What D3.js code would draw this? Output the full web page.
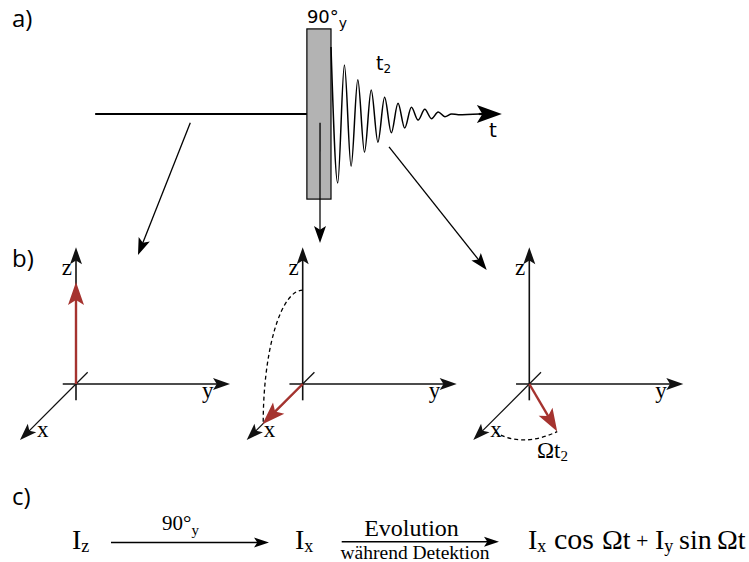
<!DOCTYPE html>
<html>
<head>
<meta charset="utf-8">
<script src="https://cdn.jsdelivr.net/npm/d3@7"></script>
<style>
  body { margin: 0; background: #fff; }
  svg { display: block; }
</style>
</head>
<body>
<script>
// a) pulse sequence: time in FID periods (0 = end of the 90° pulse),
//    signal in units of the first FID maximum
const seqStart = -17.6;
const pulseStart = -1.8;
const pulseEnd = 0;
const axisEnd = 12.75;
const pulseHeight = 1.27;
const fidTimes = [0, 0.5, 1, 1.5, 2, 2.5, 3, 3.5, 4, 4.5, 5, 5.5, 6, 6.5, 7, 7.5, 8, 8.5, 9, 9.5, 11.1];
const fidValues = [1.0, -1.03, 0.73, -0.78, 0.51, -0.57, 0.36, -0.42, 0.25, -0.28, 0.16, -0.21,
                   0.10, -0.09, 0.07, -0.07, 0.03, -0.04, 0, -0.01, 0];

// where the three arrows leave the sequence (time, signal)
const linkTimes = [-10.5, -0.82, 4.33];
const linkValues = [-0.13, -0.13, -0.49];

// b) magnetisation vectors in the three frames
const magX = [0, 1.0, 1.18];
const magY = [0, 0, 0.74];
const magZ = [1.0, 0, 0];
const xAxisExtent = [-0.29, 1.39];
const yAxisExtent = [-0.13, 1.51];
const zAxisExtent = [-0.16, 1.34];

const RED = '#a5332f';
const SERIF = '"Liberation Serif", "Times New Roman", serif';
const SANS = '"DejaVu Sans", "Liberation Sans", sans-serif';

const width = 749, height = 562;

const svg = d3.select('body')
    .append('svg')
    .attr('width', width)
    .attr('height', height);

function arrowHead(g, x1, y1, x2, y2, len, half, color) {
    const a = Math.atan2(y2 - y1, x2 - x1);
    const c = Math.cos(a), s = Math.sin(a);
    const pts = [[0, 0], [-len, -half], [-len * 0.78, 0], [-len, half]]
        .map(([px, py]) => [x2 + px * c - py * s, y2 + px * s + py * c]);
    g.append('path')
        .attr('d', d3.line()(pts) + 'Z')
        .attr('fill', color);
}

function arrow(g, x1, y1, x2, y2, opt) {
    const o = Object.assign({len: 17, half: 6, color: '#000', width: 1.4}, opt);
    const a = Math.atan2(y2 - y1, x2 - x1);
    const back = o.len * 0.7;
    g.append('line')
        .attr('x1', x1).attr('y1', y1)
        .attr('x2', x2 - back * Math.cos(a)).attr('y2', y2 - back * Math.sin(a))
        .attr('stroke', o.color)
        .attr('stroke-width', o.width);
    arrowHead(g, x1, y1, x2, y2, o.len, o.half, o.color);
}

function subText(g, x, y, main, sub, size, subSize, family, shift) {
    const t = g.append('text')
        .attr('x', x).attr('y', y)
        .attr('font-family', family)
        .attr('font-size', size)
        .attr('fill', '#000');
    t.append('tspan').text(main);
    t.append('tspan').attr('dy', shift).attr('font-size', subSize).text(sub);
    return t;
}

// panel letters
[['a)', 27], ['b)', 267], ['c)', 505]].forEach(([lab, y]) => {
    svg.append('text')
        .attr('x', 12).attr('y', y)
        .attr('font-family', '"Open Sans", sans-serif')
        .attr('font-size', 24)
        .text(lab);
});

// ---------- a) ----------
const xA = d3.scaleLinear().domain([0, 10]).range([331, 465]);
const yA = d3.scaleLinear().domain([-1, 1]).range([181, 47]);
const gA = svg.append('g');

gA.append('line')
    .attr('x1', xA(seqStart)).attr('x2', xA(pulseStart))
    .attr('y1', yA(0)).attr('y2', yA(0))
    .attr('stroke', '#000')
    .attr('stroke-width', 2.2);

gA.append('rect')
    .attr('x', xA(pulseStart))
    .attr('y', yA(pulseHeight))
    .attr('width', xA(pulseEnd) - xA(pulseStart))
    .attr('height', yA(-pulseHeight) - yA(pulseHeight))
    .attr('fill', '#b3b3b3')
    .attr('stroke', '#000')
    .attr('stroke-width', 1.2);

const fid = fidTimes.map((t, i) => [t, fidValues[i]]);
gA.append('path')
    .datum(fid)
    .attr('d', d3.line().x(d => xA(d[0])).y(d => yA(d[1])).curve(d3.curveMonotoneX))
    .attr('fill', 'none')
    .attr('stroke', '#000')
    .attr('stroke-width', 1.5);

gA.append('line')
    .attr('x1', xA(fidTimes[fidTimes.length - 1]) - 1).attr('x2', xA(axisEnd) - 18)
    .attr('y1', yA(0)).attr('y2', yA(0))
    .attr('stroke', '#000')
    .attr('stroke-width', 2.2);
arrowHead(gA, xA(0), yA(0), xA(axisEnd), yA(0), 25, 9, '#000');

subText(gA, xA(pulseStart), 23, '90°', 'y', 18, 14, SANS, 5);
subText(gA, 376, 70, 't', '2', 19, 12, SANS, 3);
gA.append('text')
    .attr('x', 489).attr('y', 137)
    .attr('font-family', SANS)
    .attr('font-size', 20)
    .text('t');

// ---------- b) ----------
const origins = [[76, 384], [302.7, 384], [529.3, 384]];
const sx = d3.scaleLinear().domain([0, 1]).range([0, 57]);   // along the diagonal x axis
const sy = d3.scaleLinear().domain([0, 1]).range([0, 102]);
const sz = d3.scaleLinear().domain([0, 1]).range([0, -102]);
function proj(o, x, y, z) {
    const d = sx(x) * Math.SQRT1_2;
    return [o[0] + sy(y) - d, o[1] + sz(z) + d];
}

// arrows from the sequence into the frames (tip offsets from the frame origin)
const linkTips = [[62, -129], [17.3, -141], [-42.6, -114]];
linkTimes.forEach((t, i) => {
    const o = origins[i];
    arrow(svg, xA(t), yA(linkValues[i]), o[0] + linkTips[i][0], o[1] + linkTips[i][1],
        {len: 17, half: 6, width: 1.3});
});

const gB = svg.append('g');
origins.forEach((o, i) => {
    const g = gB.append('g');
    const axStyle = {len: 17, half: 6, width: 1.6, color: '#111'};
    let p0 = proj(o, 0, 0, zAxisExtent[0]), p1 = proj(o, 0, 0, zAxisExtent[1]);
    arrow(g, p0[0], p0[1], p1[0], p1[1], axStyle);
    p0 = proj(o, 0, yAxisExtent[0], 0); p1 = proj(o, 0, yAxisExtent[1], 0);
    arrow(g, p0[0], p0[1], p1[0], p1[1], axStyle);
    p0 = proj(o, xAxisExtent[0], 0, 0); p1 = proj(o, xAxisExtent[1], 0, 0);
    arrow(g, p0[0], p0[1], p1[0], p1[1], Object.assign({}, axStyle, {width: 1.3}));

    g.append('text').attr('x', o[0] - 4).attr('y', 275)
        .attr('text-anchor', 'end')
        .attr('font-family', SERIF).attr('font-size', 23).text('z');
    g.append('text').attr('x', o[0] + 126).attr('y', 398)
        .attr('font-family', SERIF).attr('font-size', 23).text('y');
    g.append('text').attr('x', o[0] - 39).attr('y', 437)
        .attr('font-family', SERIF).attr('font-size', 23).text('x');

    const tip = proj(o, magX[i], magY[i], magZ[i]);
    arrow(g, o[0], o[1], tip[0], tip[1], {len: 23, half: 8, width: 2.4, color: RED});
});

// rotation paths
{
    const o = origins[1];
    const s = proj(o, 0, 0, 0.92), e = proj(o, 0.98, 0, 0);
    gB.append('path')
        .attr('d', `M${s[0]},${s[1]} A${s[0] - e[0]},${e[1] - s[1]} 0 0 0 ${e[0]},${e[1]}`)
        .attr('fill', 'none')
        .attr('stroke', '#000')
        .attr('stroke-width', 1.3)
        .attr('stroke-dasharray', '4,3');
}
{
    const o = origins[2];
    const s = proj(o, 1.19, 0.13, 0), c = proj(o, 1.59, 0.556, 0), e = proj(o, magX[2], magY[2], 0);
    gB.append('path')
        .attr('d', `M${s[0]},${s[1]} Q${c[0]},${c[1]} ${e[0]},${e[1]}`)
        .attr('fill', 'none')
        .attr('stroke', '#000')
        .attr('stroke-width', 1.3)
        .attr('stroke-dasharray', '4,3');
    subText(gB, 537, 458, 'Ωt', '2', 23, 15, SERIF, 3);
}

// ---------- c) ----------
const gC = svg.append('g').attr('font-family', SERIF);
subText(gC, 72, 549, 'I', 'z', 28, 18, SERIF, 3);
arrow(gC, 111, 542.5, 269, 542.5, {len: 15, half: 5, width: 1.5});
subText(gC, 162, 530, '90°', 'y', 21, 15, SERIF, 5);

subText(gC, 295, 549, 'I', 'x', 28, 18, SERIF, 3);
arrow(gC, 341.7, 541.7, 499, 541.7, {len: 15, half: 5, width: 1.5});
gC.append('text').attr('x', 411.5).attr('y', 536)
    .attr('text-anchor', 'middle').attr('font-size', 24).text('Evolution');
gC.append('text').attr('x', 415).attr('y', 559)
    .attr('text-anchor', 'middle').attr('font-size', 19.5).text('während Detektion');

// I_x cos Ωt + I_y sin Ωt
subText(gC, 528, 549, 'I', 'x', 28, 18, SERIF, 3);
gC.append('text').attr('x', 554).attr('y', 549).attr('font-size', 30).text('cos');
gC.append('text').attr('x', 602).attr('y', 549).attr('font-size', 28).text('Ωt');
gC.append('text').attr('x', 636).attr('y', 548).attr('font-size', 22).text('+');
subText(gC, 655, 549, 'I', 'y', 28, 18, SERIF, 3);
gC.append('text').attr('x', 679).attr('y', 549).attr('font-size', 28).text('sin');
gC.append('text').attr('x', 717).attr('y', 549).attr('font-size', 28).text('Ωt');
</script>
</body>
</html>
